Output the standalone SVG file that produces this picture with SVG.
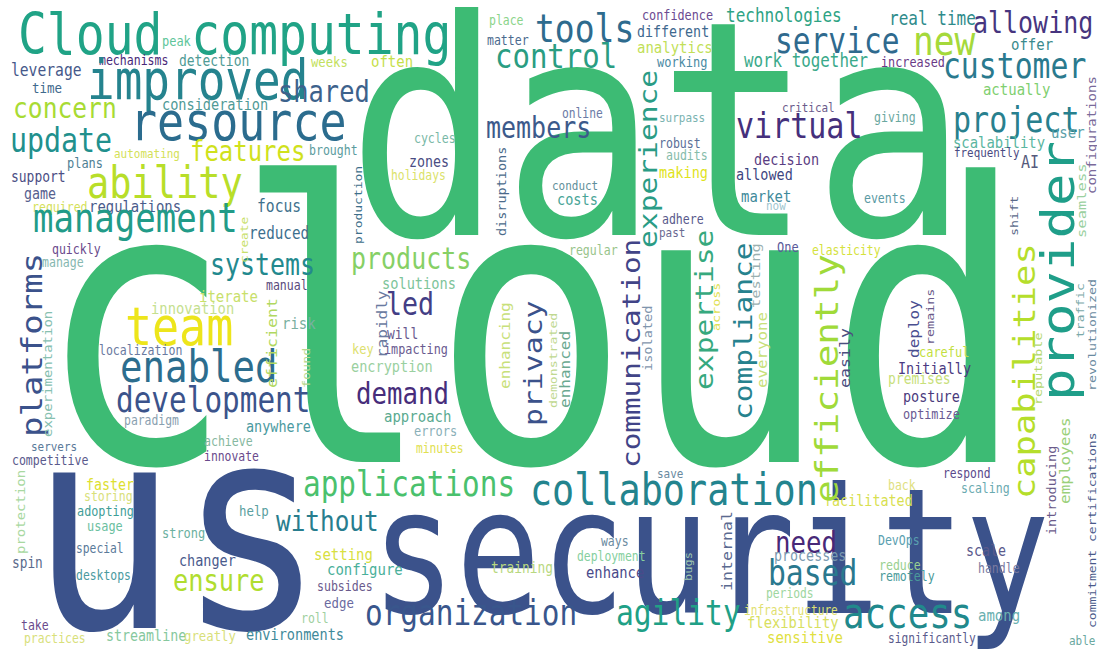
<svg xmlns="http://www.w3.org/2000/svg" width="1097" height="650" viewBox="0 0 1097 650">
<style>
text { font-family: "DejaVu Sans Mono", "Liberation Mono", monospace; }
</style>
<rect width="1097" height="650" fill="#ffffff"/>
<g id="big">
<text x="347" y="235" font-size="300" textLength="621" lengthAdjust="spacingAndGlyphs" fill="#3dbb74">data</text>
<text x="36" y="462" font-size="388" textLength="990" lengthAdjust="spacingAndGlyphs" fill="#3dbb74">cloud</text>
<text x="30" y="628" font-size="285" textLength="295" lengthAdjust="spacingAndGlyphs" fill="#3b528b">us</text>
<text x="371" y="613" font-size="175" textLength="679" lengthAdjust="spacingAndGlyphs" fill="#3b528b">security</text>
</g>
<g id="words" transform="scale(0.8438,1)">
<text x="21.3" y="54" font-size="56.9" fill="#20a386">Cloud computing</text>
<text x="192" y="46" font-size="14.2" fill="#5ec59a">peak</text>
<text x="117.3" y="65" font-size="13.7" fill="#482878">mechanisms</text>
<text x="212.1" y="66" font-size="15.4" fill="#4f9b95">detection</text>
<text x="13" y="76" font-size="17.4" fill="#46598a">leverage</text>
<text x="37.9" y="93" font-size="14.8" fill="#3f6a8d">time</text>
<text x="103.1" y="99" font-size="54.5" fill="#25838e">improved</text>
<text x="15.4" y="118" font-size="29.2" fill="#a8db34">concern</text>
<text x="192" y="110" font-size="16.1" fill="#4f9a96">consideration</text>
<text x="154.1" y="140" font-size="53.3" fill="#2b6c8e">resource</text>
<text x="11.9" y="152" font-size="33.5" fill="#21908d">update</text>
<text x="225.2" y="161" font-size="28.4" fill="#d0e11c">features</text>
<text x="135.1" y="158" font-size="13" fill="#d4e157">automating</text>
<text x="366.2" y="155" font-size="13.7" fill="#5b9c9e">brought</text>
<text x="79.4" y="168" font-size="14.2" fill="#4f8093">plans</text>
<text x="103.1" y="198" font-size="43.8" fill="#b8de29">ability</text>
<text x="13" y="182" font-size="15.4" fill="#4b4e84">support</text>
<text x="28.4" y="199" font-size="15.8" fill="#56608e">game</text>
<text x="37.9" y="212" font-size="13.7" fill="#d5e15a">required</text>
<text x="105.5" y="212" font-size="16.5" fill="#4a5b8b">regulations</text>
<text x="304.6" y="212" font-size="17.4" fill="#3f718d">focus</text>
<text x="368.6" y="67" font-size="14.5" fill="#c3df5e">weeks</text>
<text x="439.7" y="67" font-size="16.6" fill="#c6e04a">often</text>
<text x="329.5" y="102" font-size="30.1" fill="#3d628c">shared</text>
<text x="490.6" y="143" font-size="13.7" fill="#79b8a6">cycles</text>
<text x="484.7" y="167" font-size="15.8" fill="#4a4c82">zones</text>
<text x="463.4" y="180" font-size="13.5" fill="#dbe26a">holidays</text>
<text x="579.5" y="25" font-size="13.6" fill="#8bd48a">place</text>
<text x="577.1" y="45" font-size="13.7" fill="#4b6a8e">matter</text>
<text x="634" y="42" font-size="39.1" fill="#2e6b8e">tools</text>
<text x="586.6" y="68" font-size="34.4" fill="#2a9d82">control</text>
<text x="576" y="138" font-size="29.6" fill="#3c5a8b">members</text>
<text x="666" y="118" font-size="13.4" fill="#6b7ba6">online</text>
<text x="654.2" y="190" font-size="13" fill="#5f8f9a">conduct</text>
<text x="660.1" y="205" font-size="16.1" fill="#49a597">costs</text>
<text x="760.8" y="20" font-size="14" fill="#6b4a92">confidence</text>
<text x="754.9" y="37" font-size="15.8" fill="#3e688e">different</text>
<text x="754.9" y="53" font-size="16.6" fill="#c2df58">analytics</text>
<text x="778.6" y="67" font-size="14.2" fill="#4a8aa3">working</text>
<text x="860.4" y="22" font-size="19" fill="#2ea384">technologies</text>
<text x="918.5" y="53" font-size="35" fill="#2f6a8e">service</text>
<text x="881.7" y="67" font-size="18.8" fill="#3aa98a">work together</text>
<text x="926.7" y="112" font-size="13" fill="#6b5b8b">critical</text>
<text x="781" y="122" font-size="13" fill="#7ab3b0">surpass</text>
<text x="872.2" y="138" font-size="35.6" fill="#45307c">virtual</text>
<text x="781" y="148" font-size="13.7" fill="#5a6f98">robust</text>
<text x="789.3" y="160" font-size="13.7" fill="#86bcaa">audits</text>
<text x="781" y="178" font-size="16.1" fill="#dfe31c">making</text>
<text x="893.6" y="165" font-size="16" fill="#5a3d82">decision</text>
<text x="872.2" y="180" font-size="16" fill="#3d4580">allowed</text>
<text x="878.2" y="202" font-size="16.5" fill="#3e8a9b">market</text>
<text x="907.8" y="210" font-size="13" fill="#9fc6cf">now</text>
<text x="1053.6" y="25" font-size="19" fill="#2e8b8b">real time</text>
<text x="1153.1" y="33" font-size="29.6" fill="#47357f">allowing</text>
<text x="1082" y="55" font-size="40.9" fill="#a5d93b">new</text>
<text x="1198.1" y="50" font-size="16.6" fill="#3a8a8c">offer</text>
<text x="1044.1" y="67" font-size="14" fill="#6a3a86">increased</text>
<text x="1117.5" y="78" font-size="35.3" fill="#2a7a8e">customer</text>
<text x="1164.9" y="95" font-size="16.6" fill="#80cf70">actually</text>
<text x="1129.4" y="132" font-size="35.6" fill="#28808e">project</text>
<text x="1035.8" y="122" font-size="13.7" fill="#6aa8a0">giving</text>
<text x="1129.4" y="148" font-size="16.5" fill="#5ab6a0">scalability</text>
<text x="1245.5" y="138" font-size="16.6" fill="#5aa0a8">user</text>
<text x="1130.6" y="157" font-size="12.9" fill="#4a4a82">frequently</text>
<text x="1210" y="168" font-size="17.8" fill="#555a7c">AI</text>
<text x="1023.9" y="203" font-size="13.7" fill="#5a9aa3">events</text>
<text x="962.3" y="255" font-size="13.5" fill="#d5e23c">elasticity</text>
<text x="1089.1" y="357" font-size="14.2" fill="#c3df3f">careful</text>
<text x="1064.2" y="374" font-size="16" fill="#4a3a82">Initially</text>
<text x="1052.4" y="384" font-size="15.4" fill="#c8e07a">premises</text>
<text x="1070.1" y="402" font-size="16" fill="#4a3a7c">posture</text>
<text x="1070.1" y="419" font-size="14" fill="#6a5a92">optimize</text>
<text x="784.5" y="224" font-size="13.7" fill="#5a5a8c">adhere</text>
<text x="781" y="237" font-size="13" fill="#6a6a92">past</text>
<text x="674.3" y="255" font-size="13.7" fill="#98c48a">regular</text>
<text x="920.8" y="252" font-size="14.2" fill="#5a5a9a">One</text>
<text x="295.1" y="239" font-size="16.9" fill="#3d6f8e">reduced</text>
<text x="248.9" y="275" font-size="29.5" fill="#23898e">systems</text>
<text x="315.2" y="290" font-size="13.7" fill="#5a4a7c">manual</text>
<text x="416" y="269" font-size="29.6" fill="#86d065">products</text>
<text x="452.7" y="289" font-size="16.2" fill="#7dc49a">solutions</text>
<text x="457.4" y="315" font-size="31.6" fill="#433e85">led</text>
<text x="458.6" y="339" font-size="15.4" fill="#6a5a90">will</text>
<text x="417.2" y="354" font-size="14.2" fill="#dde070">key</text>
<text x="455.1" y="354" font-size="14" fill="#6a5a90">impacting</text>
<text x="334.2" y="329" font-size="16.6" fill="#7ab0a0">risk</text>
<text x="416" y="372" font-size="16.1" fill="#9ad0a0">encryption</text>
<text x="421.9" y="404" font-size="30.5" fill="#472d7b">demand</text>
<text x="455.1" y="422" font-size="16.6" fill="#5aaa90">approach</text>
<text x="490.6" y="436" font-size="14.2" fill="#8ab0b8">errors</text>
<text x="493" y="453" font-size="13.4" fill="#e0e050">minutes</text>
<text x="137.5" y="412" font-size="34.8" fill="#3b538b">development</text>
<text x="142.2" y="382" font-size="44.3" fill="#2c6d8e">enabled</text>
<text x="148.1" y="345" font-size="53.3" fill="#ede51b">team</text>
<text x="235.8" y="302" font-size="16.6" fill="#c8e06a">iterate</text>
<text x="179" y="314" font-size="16.4" fill="#c5df8e">innovation</text>
<text x="117.3" y="355" font-size="13.7" fill="#6a7aa0">localization</text>
<text x="61.6" y="254" font-size="13.7" fill="#6a4a8c">quickly</text>
<text x="49.8" y="267" font-size="13.7" fill="#86b8b0">manage</text>
<text x="39.1" y="232" font-size="40.3" fill="#229b88">management</text>
<text x="147" y="425" font-size="13.5" fill="#8aa0b0">paradigm</text>
<text x="291.5" y="432" font-size="16" fill="#4a9aa0">anywhere</text>
<text x="36.7" y="451" font-size="13" fill="#5a7a9a">servers</text>
<text x="14.2" y="465" font-size="13.7" fill="#5a5a8c">competitive</text>
<text x="241.8" y="446" font-size="13.7" fill="#86b8a0">achieve</text>
<text x="241.8" y="461" font-size="13.5" fill="#6a4a8c">innovate</text>
<text x="101.9" y="490" font-size="15.8" fill="#dde030">faster</text>
<text x="99.5" y="501" font-size="13.7" fill="#d8e07a">storing</text>
<text x="91.3" y="516" font-size="14" fill="#3f9e98">adopting</text>
<text x="103.1" y="531" font-size="14.1" fill="#6ac0a0">usage</text>
<text x="283.2" y="516" font-size="14.7" fill="#5aa0a0">help</text>
<text x="192" y="538" font-size="14.2" fill="#6ab0a0">strong</text>
<text x="90.1" y="553" font-size="13.4" fill="#5a7a9a">special</text>
<text x="14.2" y="568" font-size="15.2" fill="#5a6a8c">spin</text>
<text x="212.1" y="566" font-size="16" fill="#4a5a8c">changer</text>
<text x="90.1" y="580" font-size="13.5" fill="#4a9aa0">desktops</text>
<text x="205" y="591" font-size="30.1" fill="#b0dd2f">ensure</text>
<text x="24.9" y="630" font-size="13.6" fill="#6a4a8c">take</text>
<text x="28.4" y="643" font-size="13.5" fill="#d8e07a">practices</text>
<text x="125.6" y="641" font-size="15.8" fill="#86c89e">streamline</text>
<text x="218.1" y="641" font-size="14.6" fill="#d8e07a">greatly</text>
<text x="291.5" y="640" font-size="16.1" fill="#3f8a9a">environments</text>
<text x="359.1" y="496" font-size="34.8" fill="#4ac16d">applications</text>
<text x="327.1" y="531" font-size="28.9" fill="#287d8e">without</text>
<text x="372.1" y="560" font-size="16.6" fill="#d8e040">setting</text>
<text x="387.5" y="575" font-size="16.6" fill="#4ab09a">configure</text>
<text x="375.7" y="591" font-size="13.7" fill="#6a5a8c">subsides</text>
<text x="384" y="608" font-size="14.7" fill="#6a6aa0">edge</text>
<text x="356.7" y="623" font-size="13.6" fill="#a0d0a0">roll</text>
<text x="581.9" y="573" font-size="15.3" fill="#b8d880">training</text>
<text x="432.6" y="625" font-size="34.8" fill="#39568c">organization</text>
<text x="778.6" y="478" font-size="13" fill="#6a8aa0">save</text>
<text x="628.1" y="505" font-size="43.6" fill="#23848e">collaboration</text>
<text x="712.2" y="546" font-size="13.6" fill="#6a8aa0">ways</text>
<text x="683.8" y="561" font-size="13.5" fill="#86cf9e">deployment</text>
<text x="694.5" y="578" font-size="16.4" fill="#4a4a8a">enhance</text>
<text x="918.5" y="553" font-size="30.5" fill="#482878">need</text>
<text x="917.3" y="561" font-size="15.8" fill="#7a9ab0">processes</text>
<text x="910.1" y="585" font-size="35.2" fill="#2a788e">based</text>
<text x="907.8" y="598" font-size="13.4" fill="#9ed69e">periods</text>
<text x="881.7" y="615" font-size="13.2" fill="#dfe070">infrastructure</text>
<text x="885.3" y="628" font-size="16.4" fill="#d8e060">flexibility</text>
<text x="909" y="643" font-size="16.6" fill="#e0e040">sensitive</text>
<text x="730" y="625" font-size="35.1" fill="#20a086">agility</text>
<text x="1117.5" y="478" font-size="13.4" fill="#5a4a8c">respond</text>
<text x="1052.4" y="490" font-size="13.6" fill="#e0e080">back</text>
<text x="1138.9" y="493" font-size="13.7" fill="#6aaab0">scaling</text>
<text x="976.5" y="506" font-size="15.9" fill="#d8e050">facilitated</text>
<text x="1040.5" y="545" font-size="13.7" fill="#5aa0b0">DevOps</text>
<text x="1144.8" y="556" font-size="15.8" fill="#5a5a8c">scale</text>
<text x="1041.7" y="570" font-size="13.7" fill="#9ad090">reduce</text>
<text x="1159" y="573" font-size="13.7" fill="#7a7aa0">handle</text>
<text x="1041.7" y="581" font-size="13.7" fill="#4a9a9a">remotely</text>
<text x="999.1" y="628" font-size="42.4" fill="#21898c">access</text>
<text x="1159" y="621" font-size="16.6" fill="#6ab0b0">among</text>
<text x="1052.4" y="643" font-size="13.3" fill="#5a5a8c">significantly</text>
<text x="1266.9" y="645" font-size="13" fill="#6aa8a0">able</text>
<text transform="translate(49.8,437) rotate(-90)" font-size="34" fill="#3b528b">platforms</text>
<text transform="translate(61.6,437) rotate(-90)" font-size="14" fill="#86c0b0">experimentation</text>
<text transform="translate(293.9,263) rotate(-90)" font-size="12.8" fill="#c8e06a">create</text>
<text transform="translate(429,244) rotate(-90)" font-size="13" fill="#3d6f8a">production</text>
<text transform="translate(599.7,236) rotate(-90)" font-size="13.5" fill="#4a6a8a">disruptions</text>
<text transform="translate(778.6,248) rotate(-90)" font-size="29.6" fill="#2a9c85">experience</text>
<text transform="translate(758.5,468) rotate(-90)" font-size="29.3" fill="#414487">communication</text>
<text transform="translate(772.7,371) rotate(-90)" font-size="13.6" fill="#7f95ad">isolated</text>
<text transform="translate(845,390) rotate(-90)" font-size="29.6" fill="#36a97e">expertise</text>
<text transform="translate(853.3,331) rotate(-90)" font-size="13.4" fill="#e0e050">across</text>
<text transform="translate(891.2,420) rotate(-90)" font-size="29.5" fill="#26828e">compliance</text>
<text transform="translate(900.7,308) rotate(-90)" font-size="15.4" fill="#9ab0b0">testing</text>
<text transform="translate(909,388) rotate(-90)" font-size="15.8" fill="#c8e07a">everyone</text>
<text transform="translate(660.1,408) rotate(-90)" font-size="13.2" fill="#c0d890">demonstrated</text>
<text transform="translate(675.5,408) rotate(-90)" font-size="16" fill="#6aa890">enhanced</text>
<text transform="translate(604.4,389) rotate(-90)" font-size="16" fill="#c8e07a">enhancing</text>
<text transform="translate(642.3,426) rotate(-90)" font-size="29.8" fill="#3b528b">privacy</text>
<text transform="translate(458.6,358) rotate(-90)" font-size="16" fill="#6a7aa0">rapidly</text>
<text transform="translate(367.4,388) rotate(-90)" font-size="13.4" fill="#b8d890">found</text>
<text transform="translate(328.3,388) rotate(-90)" font-size="16.6" fill="#b0d860">efficient</text>
<text transform="translate(993.1,503) rotate(-90)" font-size="37.6" fill="#a0da39">efficiently</text>
<text transform="translate(1007.3,388) rotate(-90)" font-size="16.6" fill="#4a4f80">easily</text>
<text transform="translate(1089.1,358) rotate(-90)" font-size="16" fill="#4a4f90">deploy</text>
<text transform="translate(1106.9,345) rotate(-90)" font-size="13.4" fill="#6a5a8a">remains</text>
<text transform="translate(1226.6,499) rotate(-90)" font-size="35.4" fill="#b5de2b">capabilities</text>
<text transform="translate(1272.8,401) rotate(-90)" font-size="54" fill="#1f9e89">provider</text>
<text transform="translate(1234.9,405) rotate(-90)" font-size="13.4" fill="#b5d870">reputable</text>
<text transform="translate(1284.7,338) rotate(-90)" font-size="13" fill="#7aa8a8">traffic</text>
<text transform="translate(1298.9,391) rotate(-90)" font-size="13.3" fill="#6a8aa0">revolutionized</text>
<text transform="translate(1298.9,194) rotate(-90)" font-size="14" fill="#7a6a9a">configurations</text>
<text transform="translate(1287,238) rotate(-90)" font-size="15.5" fill="#9ad0a0">seamless</text>
<text transform="translate(1206.4,236) rotate(-90)" font-size="13.4" fill="#5a6a8a">shift</text>
<text transform="translate(1251.5,535) rotate(-90)" font-size="13.5" fill="#6a5a8a">introducing</text>
<text transform="translate(1268.1,504) rotate(-90)" font-size="16" fill="#9ad07a">employees</text>
<text transform="translate(1298.9,628) rotate(-90)" font-size="13" fill="#4a5a8a">commitment certifications</text>
<text transform="translate(29.6,554) rotate(-90)" font-size="14" fill="#a8d8a0">protection</text>
<text transform="translate(867.5,591) rotate(-90)" font-size="16.6" fill="#5a6a90">internal</text>
<text transform="translate(820.1,581) rotate(-90)" font-size="12" fill="#a0c8b0">bugs</text>
</g>
</svg>
